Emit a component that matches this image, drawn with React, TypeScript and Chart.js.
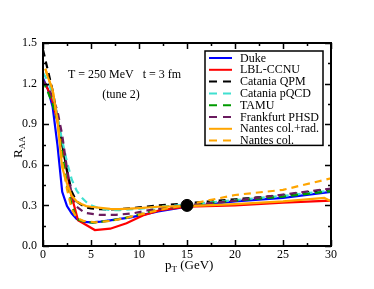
import React, { useEffect, useRef } from "react";
import { Chart, registerables } from "chart.js";

Chart.register(...registerables);

const seriesNames = ["Duke", "LBL-CCNU", "Catania QPM", "Catania pQCD", "TAMU", "Frankfurt PHSD", "Nantes col.+rad.", "Nantes col."];
const seriesColors = ["#0000ff", "#ff0000", "#000000", "#40e0d0", "#009a00", "#6a1b5e", "#ffa500", "#ffa500"];
const seriesDashed = [false, false, true, true, true, true, false, true];

const dukePt = [0, 0.5, 1, 1.5, 2, 2.5, 3, 3.5, 4, 5, 6, 7, 8, 9, 10, 12, 15, 20, 25, 30];
const dukeR = [1.24, 1.16, 1.03, 0.75, 0.4, 0.295, 0.24, 0.2, 0.18, 0.175, 0.18, 0.19, 0.2, 0.21, 0.225, 0.255, 0.29, 0.33, 0.355, 0.4];

const lblPt = [0, 0.5, 1, 1.5, 2, 2.4, 2.9, 3.65, 4.5, 5.4, 7, 8.7, 10.4, 12.2, 15, 20, 25, 30];
const lblR = [1.22, 1.16, 1.07, 0.92, 0.76, 0.59, 0.39, 0.19, 0.155, 0.118, 0.128, 0.168, 0.225, 0.265, 0.29, 0.3, 0.32, 0.335];

const qpmPt = [0, 0.5, 1, 1.5, 2, 2.5, 3, 3.5, 4, 4.5, 5, 6, 7, 8, 10, 12, 15, 20, 25, 30];
const qpmR = [1.45, 1.3, 1.15, 0.95, 0.75, 0.56, 0.4, 0.33, 0.305, 0.285, 0.278, 0.272, 0.27, 0.272, 0.285, 0.3, 0.315, 0.345, 0.375, 0.42];

const pqcdPt = [0, 0.5, 1, 1.5, 2, 2.5, 3, 3.5, 4, 4.5, 5, 6, 7, 8, 10, 12, 15, 20, 25, 30];
const pqcdR = [1.28, 1.22, 1.12, 0.95, 0.78, 0.62, 0.49, 0.41, 0.36, 0.325, 0.3, 0.275, 0.265, 0.265, 0.275, 0.29, 0.305, 0.34, 0.37, 0.41];

const tamuPt = [0, 0.5, 1, 1.5, 2, 2.5, 3, 3.5, 4.3, 5.2, 7, 8.7, 10.4, 12.2, 15, 20, 25, 30];
const tamuR = [1.22, 1.14, 1.05, 0.93, 0.68, 0.45, 0.3, 0.2, 0.18, 0.172, 0.187, 0.21, 0.24, 0.275, 0.3, 0.335, 0.365, 0.405];

const phsdPt = [0, 0.5, 1, 1.5, 2, 2.5, 3, 3.5, 4.35, 5.9, 7.6, 9.4, 11.1, 15, 20, 25, 30];
const phsdR = [1.22, 1.18, 1.1, 1.0, 0.82, 0.57, 0.38, 0.29, 0.245, 0.23, 0.23, 0.242, 0.266, 0.3, 0.335, 0.38, 0.425];

const ncrPt = [0.25, 0.5, 1, 1.5, 2, 2.5, 3, 3.5, 4, 4.5, 5, 6, 7, 8, 10, 12, 15, 20, 25, 29.3, 30];
const ncrR = [1.31, 1.25, 1.155, 0.93, 0.58, 0.46, 0.37, 0.33, 0.31, 0.295, 0.29, 0.282, 0.275, 0.272, 0.28, 0.29, 0.295, 0.31, 0.33, 0.355, 0.33];

const ncPt = [0.25, 0.5, 1, 1.5, 2, 2.5, 3, 3.5, 4.2, 5.5, 7, 8.5, 10, 12, 15, 20, 25, 30];
const ncR = [1.31, 1.25, 1.155, 0.93, 0.62, 0.42, 0.27, 0.21, 0.185, 0.175, 0.185, 0.205, 0.23, 0.265, 0.305, 0.377, 0.415, 0.5];

const markerPt = [15];
const markerR = [0.3];

const allPt = [dukePt, lblPt, qpmPt, pqcdPt, tamuPt, phsdPt, ncrPt, ncPt];
const allR = [dukeR, lblR, qpmR, pqcdR, tamuR, phsdR, ncrR, ncR];

const annotationLine1 = "T = 250 MeV   t = 3 fm";
const annotationLine2 = "(tune 2)";

const SERIF = "'Liberation Serif', 'DejaVu Serif', serif";
const DASH = [7, 5];

const decorPlugin = {
  id: "decor",
  afterDatasetsDraw(chart: any) {
    const ctx = chart.ctx;
    const { left, right, top, bottom } = chart.chartArea;
    const xs = chart.scales.x;
    const ys = chart.scales.y;
    ctx.save();
    ctx.strokeStyle = "#000";
    ctx.lineWidth = 2;
    ctx.strokeRect(left, top, right - left, bottom - top);
    ctx.lineWidth = 1.5;
    ctx.beginPath();
    for (let v = 0; v <= 30.001; v += 2.5) {
      const px = Math.round(xs.getPixelForValue(v)) + 0.5;
      const len = Math.abs(v / 5 - Math.round(v / 5)) < 1e-6 ? 6 : 3;
      ctx.moveTo(px, bottom);
      ctx.lineTo(px, bottom - len);
      ctx.moveTo(px, top);
      ctx.lineTo(px, top + len);
    }
    for (let v = 0; v <= 1.5001; v += 0.15) {
      const py = Math.round(ys.getPixelForValue(v)) + 0.5;
      const len = Math.abs(v / 0.3 - Math.round(v / 0.3)) < 1e-6 ? 6 : 3;
      ctx.moveTo(left, py);
      ctx.lineTo(left + len, py);
      ctx.moveTo(right, py);
      ctx.lineTo(right - len, py);
    }
    ctx.stroke();

    ctx.fillStyle = "#000";
    ctx.font = `12px ${SERIF}`;
    ctx.textBaseline = "middle";
    ctx.textAlign = "left";
    ctx.fillText(annotationLine1, 68, 75);
    ctx.textAlign = "center";
    ctx.fillText(annotationLine2, 121, 95);

    const lx = 205, ly = 51, lw = 118, rowH = 11.8;
    const lh = rowH * seriesNames.length;
    ctx.fillStyle = "#fff";
    ctx.fillRect(lx, ly, lw, lh);
    ctx.strokeStyle = "#000";
    ctx.lineWidth = 1.5;
    ctx.strokeRect(lx, ly, lw, lh);
    ctx.textAlign = "left";
    seriesNames.forEach((name, i) => {
      const cy = ly + 7 + i * rowH;
      ctx.strokeStyle = seriesColors[i];
      ctx.lineWidth = 2;
      ctx.setLineDash(seriesDashed[i] ? [8, 6] : []);
      ctx.beginPath();
      ctx.moveTo(209, cy);
      ctx.lineTo(232, cy);
      ctx.stroke();
      ctx.setLineDash([]);
      ctx.fillStyle = "#000";
      ctx.fillText(name, 240, cy + 0.5);
    });

    ctx.save();
    ctx.translate(19, 150);
    ctx.rotate(-Math.PI / 2);
    ctx.textAlign = "left";
    ctx.font = `13px ${SERIF}`;
    ctx.fillText("R", -8, 0);
    const rw = ctx.measureText("R").width;
    ctx.font = `9px ${SERIF}`;
    ctx.fillText("AA", -8 + rw, 4);
    ctx.restore();

    ctx.textAlign = "left";
    ctx.font = `13px ${SERIF}`;
    let tx = 165;
    const ty = 266;
    ctx.fillText("p", tx, ty);
    tx += ctx.measureText("p").width;
    ctx.font = `9px ${SERIF}`;
    ctx.fillText("T", tx, ty + 4);
    tx += ctx.measureText("T").width;
    ctx.font = `13px ${SERIF}`;
    ctx.fillText(" (GeV)", tx, ty);
    ctx.restore();
  },
};

export default function App() {
  const ref = useRef<HTMLCanvasElement | null>(null);
  useEffect(() => {
    document.body.style.margin = "0";
    const canvas = ref.current;
    if (!canvas) return;
    const datasets: any[] = seriesNames.map((name, i) => ({
      label: name,
      data: allPt[i].map((x, j) => ({ x, y: allR[i][j] })),
      borderColor: seriesColors[i],
      backgroundColor: seriesColors[i],
      borderWidth: 2.2,
      borderDash: seriesDashed[i] ? DASH : [],
      pointRadius: 0,
      fill: false,
      tension: 0,
      order: seriesNames.length - i,
    }));
    datasets.push({
      label: "marker",
      data: markerPt.map((x, j) => ({ x, y: markerR[j] })),
      showLine: false,
      pointRadius: 6,
      pointBackgroundColor: "#000",
      pointBorderColor: "#000",
      order: 0,
    });
    const chart = new Chart(canvas, {
      type: "line",
      data: { datasets },
      options: {
        animation: false,
        responsive: false,
        devicePixelRatio: 1,
        layout: { padding: { left: 0, right: 43, top: 43, bottom: 20 } },
        plugins: { legend: { display: false }, tooltip: { enabled: false } },
        scales: {
          x: {
            type: "linear",
            min: 0,
            max: 30,
            grid: { display: false, drawTicks: false },
            border: { display: false },
            ticks: { stepSize: 5, color: "#000", font: { family: SERIF, size: 12 }, padding: 2, maxRotation: 0 },
            afterFit: (s: any) => { s.height = 23; },
          },
          y: {
            type: "linear",
            min: 0,
            max: 1.5,
            grid: { display: false, drawTicks: false },
            border: { display: false },
            ticks: {
              stepSize: 0.3,
              color: "#000",
              font: { family: SERIF, size: 12 },
              padding: 6,
              callback: (v: any) => Number(v).toFixed(1),
            },
            afterFit: (s: any) => { s.width = 43; },
          },
        },
      },
      plugins: [decorPlugin],
    });
    return () => chart.destroy();
  }, []);
  return (
    <div style={{ position: "absolute", left: 0, top: 0, width: 374, height: 289, background: "#fff" }}>
      <canvas ref={ref} width={374} height={289} />
    </div>
  );
}
